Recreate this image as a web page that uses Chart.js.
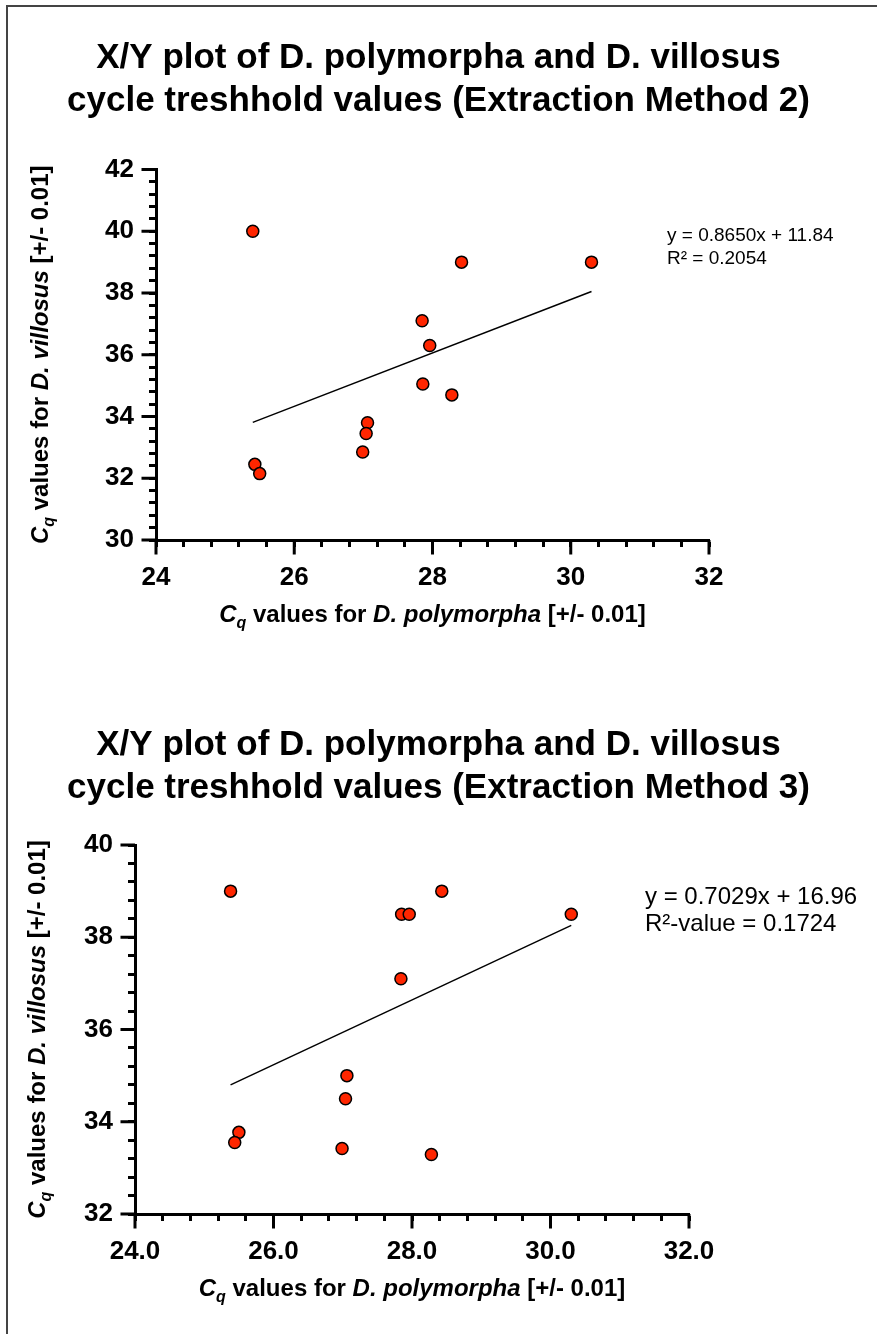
<!DOCTYPE html>
<html>
<head>
<meta charset="utf-8">
<script src="https://cdn.jsdelivr.net/npm/chart.js@4.4.1/dist/chart.umd.min.js"></script>
<style>
  html, body { margin: 0; padding: 0; background: #fff; }
  #page { position: relative; width: 877px; height: 1334px; overflow: hidden; background: #fff; }
  #frame { position: absolute; left: 6px; top: 5px; width: 900px; height: 1400px; border: 2px solid #444; }
  .plot { position: absolute; left: 0; width: 877px; }
  #plot2 { top: 0; height: 660px; }
  #plot3 { top: 660px; height: 674px; }
</style>
</head>
<body>
<div id="page">
  <div id="frame"></div>
  <div class="plot" id="plot2"><canvas id="method2Chart"></canvas></div>
  <div class="plot" id="plot3"><canvas id="method3Chart"></canvas></div>
</div>
<script>
// Extraction Method 2: Cq of D. polymorpha (x) vs D. villosus (y)
const m2X = [25.40, 28.42, 30.30, 27.85, 27.96, 27.86, 28.28, 27.06, 27.04, 26.99, 25.43, 25.50];
const m2Y = [40.00, 39.00, 39.00, 37.10, 36.30, 35.05, 34.70, 33.80, 33.45, 32.85, 32.45, 32.15];
const m2Slope = 0.8650;
const m2Intercept = 11.84;
const m2R2 = '0.2054';

// Extraction Method 3
const m3X = [25.38, 28.43, 27.85, 27.96, 30.30, 27.84, 27.06, 27.04, 25.50, 25.44, 26.99, 28.28];
const m3Y = [39.00, 39.00, 38.50, 38.50, 38.50, 37.10, 35.00, 34.50, 33.77, 33.55, 33.42, 33.29];
const m3Slope = 0.7029;
const m3Intercept = 16.96;
const m3R2 = '0.1724';

// labelled (major) ticks
const xMajor = [24, 26, 28, 30, 32];
const yMajor2 = [30, 32, 34, 36, 38, 40, 42];
const yMajor3 = [32, 34, 36, 38, 40];

const FONT = '"Liberation Sans", Arial, Helvetica, sans-serif';
Chart.defaults.font.family = FONT;
Chart.defaults.color = '#000';

const isMajor = (list, v) => list.some(m => Math.abs(m - v) < 1e-6);

// axis titles with italic parts and the q subscript
function drawParts(ctx, parts, cx, cy, angle) {
    const font = p => (p.it ? 'italic ' : '') + 'bold ' + (p.sub ? 16 : 24) + 'px ' + FONT;
    let w = 0;
    parts.forEach(p => { ctx.font = font(p); w += ctx.measureText(p.t).width; });
    ctx.save();
    ctx.translate(cx, cy);
    ctx.rotate(angle);
    let x = -w / 2;
    parts.forEach(p => {
        ctx.font = font(p);
        ctx.fillText(p.t, x, p.sub ? 6 : 0);
        x += ctx.measureText(p.t).width;
    });
    ctx.restore();
}

const axisTitles = {
    id: 'axisTitles',
    afterDraw(chart, args, o) {
        const { ctx, chartArea: a } = chart;
        ctx.save();
        ctx.fillStyle = '#000';
        ctx.textBaseline = 'alphabetic';
        drawParts(ctx, o.x, (a.left + a.right) / 2, a.bottom + o.xGap, 0);
        drawParts(ctx, o.y, a.left - o.yGap, (a.top + a.bottom) / 2, -Math.PI / 2);
        ctx.restore();
    }
};

// longer marks on the labelled ticks
const majorTicks = {
    id: 'majorTicks',
    afterDraw(chart, args, o) {
        const { ctx, chartArea: a, scales } = chart;
        ctx.save();
        ctx.strokeStyle = '#000';
        ctx.lineWidth = 3;
        ctx.beginPath();
        o.x.forEach(v => {
            const px = scales.x.getPixelForValue(v);
            ctx.moveTo(px, a.bottom);
            ctx.lineTo(px, a.bottom + o.len);
        });
        o.y.forEach(v => {
            const py = scales.y.getPixelForValue(v);
            ctx.moveTo(a.left, py);
            ctx.lineTo(a.left - o.len, py);
        });
        ctx.stroke();
        ctx.restore();
    }
};

// regression equation text
const fitLabel = {
    id: 'fitLabel',
    afterDraw(chart, args, o) {
        const { ctx, chartArea: a } = chart;
        ctx.save();
        ctx.fillStyle = '#000';
        ctx.font = o.size + 'px ' + FONT;
        ctx.textBaseline = 'middle';
        o.lines.forEach((t, i) => ctx.fillText(t, a.right + o.dx, a.top + o.dy + i * o.gap));
        ctx.restore();
    }
};

const xTitle = [
    { t: 'C', it: true }, { t: 'q', it: true, sub: true },
    { t: ' values for ' }, { t: 'D. polymorpha', it: true }, { t: ' [+/- 0.01]' }
];
const yTitle = [
    { t: 'C', it: true }, { t: 'q', it: true, sub: true },
    { t: ' values for ' }, { t: 'D. villosus', it: true }, { t: ' [+/- 0.01]' }
];

function buildConfig(o) {
    const xMin = Math.min(...o.xs), xMax = Math.max(...o.xs);
    const trend = [xMin, xMax].map(x => ({ x: x, y: o.slope * x + o.intercept }));
    const tickFont = { size: 26, weight: 'bold' };
    const axisBase = {
        type: 'linear',
        border: { display: true, color: '#000', width: 3 },
        grid: { drawOnChartArea: false, drawTicks: true, tickLength: 7, tickWidth: 3, tickColor: '#000' }
    };
    return {
        type: 'scatter',
        data: {
            datasets: [{
                data: o.xs.map((x, i) => ({ x: x, y: o.ys[i] })),
                backgroundColor: '#ff2600',
                borderColor: '#000',
                borderWidth: 1.5,
                pointRadius: 6
            }, {
                data: trend,
                showLine: true,
                borderColor: '#000',
                borderWidth: 1.5,
                pointRadius: 0,
                fill: false
            }]
        },
        options: {
            responsive: true,
            maintainAspectRatio: false,
            animation: false,
            layout: { padding: 0 },
            plugins: {
                legend: { display: false },
                tooltip: { enabled: false },
                title: {
                    display: true,
                    text: o.title,
                    color: '#000',
                    font: { size: 35, weight: 'bold', lineHeight: 1.25 },
                    padding: o.titlePad
                },
                axisTitles: { x: xTitle, y: yTitle, xGap: 82, yGap: o.yGap },
                majorTicks: { x: xMajor, y: o.yMajor, len: 14.5 },
                fitLabel: o.label
            },
            scales: {
                x: Object.assign({}, axisBase, {
                    min: 24, max: 32,
                    afterFit: s => { s.height = 120; },
                    ticks: {
                        stepSize: 0.4, autoSkip: false, padding: 15, font: tickFont, maxRotation: 0,
                        callback: v => isMajor(xMajor, v) ? o.xFmt(v) : ''
                    }
                }),
                y: Object.assign({}, axisBase, {
                    min: o.yMin, max: o.yMax,
                    afterFit: s => { s.width = o.yWidth; },
                    ticks: {
                        stepSize: 0.4, autoSkip: false, padding: 15, font: tickFont,
                        callback: v => isMajor(o.yMajor, v) ? String(Math.round(v)) : ''
                    }
                }),
                // empty right-hand strip that holds the equation text
                side: {
                    type: 'linear', position: 'right', display: true,
                    grid: { display: false }, border: { display: false }, ticks: { display: false },
                    afterFit: s => { s.width = o.rightPad; }
                }
            }
        },
        plugins: [axisTitles, majorTicks, fitLabel]
    };
}

document.addEventListener('DOMContentLoaded', function() {
    new Chart(document.getElementById('method2Chart'), buildConfig({
        xs: m2X, ys: m2Y, slope: m2Slope, intercept: m2Intercept,
        title: ['X/Y plot of D. polymorpha and D. villosus', 'cycle treshhold values (Extraction Method 2)'],
        titlePad: { top: 36, bottom: 46 },
        yMin: 30, yMax: 42, yMajor: yMajor2, yWidth: 156, rightPad: 168, yGap: 108,
        xFmt: v => String(Math.round(v)),
        label: {
            size: 19, dx: -42, dy: 66.5, gap: 23,
            lines: ['y = ' + m2Slope.toFixed(4) + 'x + ' + m2Intercept.toFixed(2), 'R\u00b2 = ' + m2R2]
        }
    }));

    new Chart(document.getElementById('method3Chart'), buildConfig({
        xs: m3X, ys: m3Y, slope: m3Slope, intercept: m3Intercept,
        title: ['X/Y plot of D. polymorpha and D. villosus', 'cycle treshhold values (Extraction Method 3)'],
        titlePad: { top: 63, bottom: 34.5 },
        yMin: 32, yMax: 40, yMajor: yMajor3, yWidth: 135, rightPad: 188, yGap: 90,
        xFmt: v => v.toFixed(1),
        label: {
            size: 24, dx: -44, dy: 52, gap: 27,
            lines: ['y = ' + m3Slope.toFixed(4) + 'x + ' + m3Intercept.toFixed(2), 'R\u00b2-value = ' + m3R2]
        }
    }));
});
</script>
</body>
</html>
